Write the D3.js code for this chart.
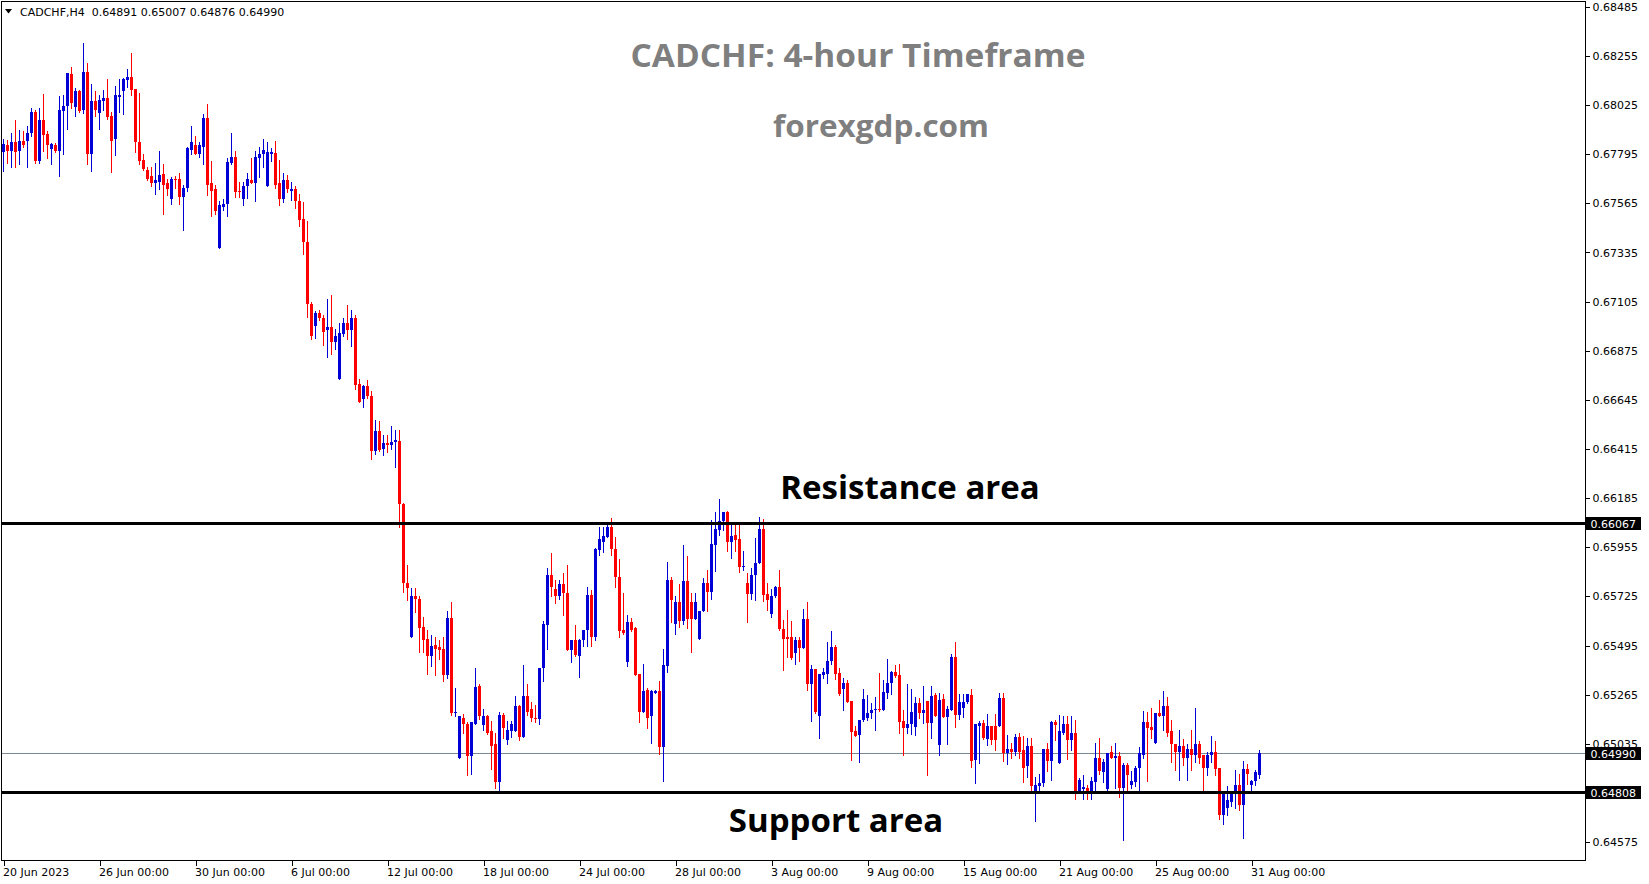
<!DOCTYPE html>
<html>
<head>
<meta charset="utf-8">
<script src="https://cdn.jsdelivr.net/npm/d3@7"></script>
<style>
html,body{margin:0;padding:0;background:#ffffff;overflow:hidden;}
svg{display:block;}
</style>
</head>
<body>
<svg id="chart" width="1649" height="884"></svg>
<script>
const symbolLabel = "CADCHF,H4";
const lastQuote = ["0.64891", "0.65007", "0.64876", "0.64990"];
const titleText = "CADCHF: 4-hour Timeframe";
const siteText = "forexgdp.com";
const resistanceText = "Resistance area";
const supportText = "Support area";

const open = [
0.67803,0.67839,0.67808,0.67851,0.67808,0.67857,0.67857,0.67892,0.67993,0.67765,
0.67956,0.67890,0.67818,0.67839,0.67808,0.67999,0.68021,0.68171,0.68018,0.68091,
0.68003,0.68180,0.67794,0.68042,0.67990,0.68046,0.68059,0.67974,0.67864,0.68065,
0.68093,0.68143,0.68157,0.68101,0.67854,0.67769,0.67723,0.67691,0.67658,0.67667,
0.67703,0.67658,0.67587,0.67681,0.67681,0.67597,0.67639,0.67817,0.67839,0.67794,
0.67831,0.67965,0.67662,0.67630,0.67358,0.67550,0.67560,0.67756,0.67783,0.67625,
0.67587,0.67644,0.67676,0.67662,0.67779,0.67794,0.67648,0.67798,0.67801,0.67658,
0.67587,0.67675,0.67625,0.67633,0.67577,0.67494,0.67385,0.67095,0.66993,0.67053,
0.67029,0.66970,0.66987,0.66918,0.66745,0.66954,0.67006,0.66970,0.67029,0.66720,
0.66647,0.66711,0.66664,0.66408,0.66500,0.66413,0.66444,0.66436,0.66446,0.66453,
0.66158,0.65790,0.65533,0.65729,0.65714,0.65584,0.65526,0.65448,0.65497,0.65486,
0.65477,0.65355,0.65625,0.65177,0.64971,0.65158,0.65130,0.64976,0.65130,0.65308,
0.65121,0.65163,0.65093,0.65032,0.64854,0.65172,0.65051,0.65097,0.65097,0.65210,
0.65069,0.65257,0.65196,0.65158,0.65149,0.65388,0.65589,0.65823,0.65762,0.65729,
0.65781,0.65743,0.65472,0.65523,0.65448,0.65519,0.65566,0.65734,0.65537,0.65940,
0.65982,0.66005,0.66052,0.65949,0.65818,0.65566,0.65420,0.65603,0.65575,0.65360,
0.65186,0.65285,0.65163,0.65275,0.65280,0.65018,0.65397,0.65800,0.65598,0.65701,
0.65612,0.65795,0.65697,0.65617,0.65528,0.65655,0.65790,0.65744,0.65967,0.66037,
0.66079,0.66121,0.65981,0.66014,0.65995,0.65864,0.65789,0.65737,0.65826,0.65883,
0.66042,0.65737,0.65644,0.65728,0.65770,0.65571,0.65533,0.65533,0.65458,0.65519,
0.65482,0.65617,0.65313,0.65383,0.65163,0.65355,0.65360,0.65425,0.65486,0.65365,
0.65290,0.65318,0.65234,0.65093,0.65075,0.65145,0.65154,0.65177,0.65192,0.65196,
0.65192,0.65271,0.65318,0.65369,0.65355,0.65140,0.65107,0.65126,0.65112,0.65224,
0.65177,0.65234,0.65131,0.65262,0.65028,0.65243,0.65159,0.65192,0.65440,0.65168,
0.65201,0.65229,0.65262,0.64958,0.65117,0.65131,0.65056,0.65117,0.65117,0.65117,
0.65248,0.64990,0.65009,0.64999,0.65065,0.65004,0.64929,0.65023,0.64812,0.64836,
0.64850,0.65009,0.64953,0.65135,0.64943,0.65088,0.65130,0.65051,0.65088,0.64812,
0.64822,0.64826,0.64812,0.64854,0.64971,0.64901,0.64822,0.64995,0.64967,0.64976,
0.64826,0.64934,0.64840,0.64854,0.64920,0.64981,0.65135,0.65112,0.65037,0.65177,
0.65163,0.65210,0.65093,0.65032,0.64995,0.65023,0.64971,0.65013,0.64985,0.65032,
0.64981,0.64924,0.64981,0.64995,0.64920,0.64700,0.64733,0.64765,0.64803,0.64840,
0.64751,0.64915,0.64840,0.64859,0.64891];

const high = [
0.67865,0.67862,0.67893,0.67956,0.67909,0.67904,0.67928,0.68010,0.68003,0.68012,
0.68077,0.67904,0.67847,0.67847,0.68068,0.68073,0.68176,0.68205,0.68104,0.68096,
0.68316,0.68223,0.68124,0.68091,0.68073,0.68096,0.68148,0.67993,0.68116,0.68148,
0.68154,0.68194,0.68269,0.68101,0.68082,0.67797,0.67737,0.67737,0.67756,0.67812,
0.67751,0.67681,0.67686,0.67695,0.67709,0.67653,0.67831,0.67925,0.67878,0.67851,
0.67985,0.68032,0.67765,0.67653,0.67578,0.67587,0.67779,0.67896,0.67812,0.67667,
0.67667,0.67709,0.67779,0.67808,0.67831,0.67868,0.67850,0.67826,0.67857,0.67770,
0.67706,0.67700,0.67667,0.67648,0.67611,0.67569,0.67483,0.67104,0.67062,0.67067,
0.67043,0.67118,0.67137,0.66978,0.67006,0.67029,0.67090,0.67067,0.67043,0.66744,
0.66716,0.66739,0.66687,0.66552,0.66547,0.66482,0.66482,0.66524,0.66505,0.66505,
0.66161,0.65873,0.65765,0.65765,0.65729,0.65631,0.65569,0.65545,0.65537,0.65523,
0.65537,0.65658,0.65700,0.65294,0.65163,0.65176,0.65135,0.65135,0.65388,0.65317,
0.65200,0.65168,0.65140,0.65088,0.65182,0.65177,0.65140,0.65140,0.65261,0.65219,
0.65406,0.65313,0.65229,0.65215,0.65392,0.65608,0.65860,0.65926,0.65804,0.65800,
0.65834,0.65870,0.65523,0.65589,0.65528,0.65570,0.65771,0.65753,0.65954,0.66052,
0.66052,0.66062,0.66090,0.66005,0.65898,0.65739,0.65636,0.65622,0.65584,0.65360,
0.65411,0.65294,0.65289,0.65289,0.65331,0.65477,0.65884,0.65818,0.65729,0.65781,
0.65968,0.65912,0.65743,0.65739,0.65655,0.65809,0.65847,0.66084,0.66121,0.66182,
0.66121,0.66126,0.66060,0.66060,0.66065,0.65939,0.65836,0.65859,0.66000,0.66098,
0.66088,0.65789,0.65761,0.65775,0.65850,0.65613,0.65660,0.65608,0.65533,0.65533,
0.65664,0.65697,0.65402,0.65383,0.65360,0.65388,0.65510,0.65561,0.65496,0.65388,
0.65341,0.65332,0.65234,0.65117,0.65145,0.65290,0.65262,0.65224,0.65252,0.65365,
0.65332,0.65430,0.65374,0.65402,0.65407,0.65192,0.65313,0.65290,0.65252,0.65248,
0.65304,0.65234,0.65304,0.65271,0.65271,0.65266,0.65210,0.65454,0.65510,0.65266,
0.65266,0.65266,0.65290,0.65126,0.65140,0.65145,0.65173,0.65117,0.65173,0.65271,
0.65271,0.65074,0.65041,0.65079,0.65084,0.65070,0.65060,0.65060,0.64882,0.64892,
0.65009,0.65037,0.65140,0.65145,0.65168,0.65163,0.65163,0.65163,0.65145,0.64873,
0.64887,0.64840,0.64882,0.65037,0.65060,0.64962,0.64990,0.65023,0.65037,0.64995,
0.64943,0.64943,0.64906,0.64929,0.65018,0.65191,0.65182,0.65205,0.65177,0.65238,
0.65280,0.65252,0.65145,0.65032,0.65098,0.65056,0.65032,0.65098,0.65201,0.65046,
0.64981,0.64995,0.65070,0.65046,0.64920,0.64812,0.64836,0.64812,0.64911,0.64896,
0.64953,0.64939,0.64868,0.64911,0.65007];

const low = [
0.67718,0.67756,0.67733,0.67733,0.67751,0.67828,0.67733,0.67881,0.67756,0.67756,
0.67808,0.67775,0.67751,0.67804,0.67695,0.67798,0.67911,0.68013,0.67976,0.67992,
0.67990,0.67747,0.67718,0.67976,0.67911,0.68003,0.67959,0.67714,0.67789,0.67993,
0.67985,0.68110,0.68074,0.67803,0.67751,0.67723,0.67672,0.67644,0.67611,0.67630,
0.67517,0.67606,0.67564,0.67639,0.67560,0.67438,0.67625,0.67794,0.67794,0.67784,
0.67751,0.67606,0.67508,0.67513,0.67358,0.67536,0.67508,0.67747,0.67597,0.67597,
0.67555,0.67592,0.67662,0.67574,0.67686,0.67733,0.67648,0.67765,0.67639,0.67555,
0.67569,0.67616,0.67581,0.67541,0.67461,0.67326,0.67031,0.66932,0.66937,0.67017,
0.66900,0.66844,0.66862,0.66881,0.66745,0.66946,0.66932,0.66895,0.66694,0.66633,
0.66614,0.66652,0.66366,0.66390,0.66408,0.66385,0.66399,0.66413,0.66329,0.66048,
0.65748,0.65706,0.65533,0.65654,0.65467,0.65467,0.65364,0.65397,0.65355,0.65430,
0.65327,0.65341,0.65172,0.65163,0.64971,0.65088,0.64887,0.64892,0.65126,0.65149,
0.65102,0.65083,0.64915,0.64826,0.64812,0.65060,0.65032,0.65069,0.65093,0.65051,
0.65069,0.65168,0.65140,0.65135,0.65130,0.65331,0.65481,0.65729,0.65692,0.65711,
0.65640,0.65472,0.65420,0.65448,0.65350,0.65491,0.65495,0.65491,0.65523,0.65921,
0.65935,0.66005,0.65921,0.65771,0.65537,0.65551,0.65397,0.65561,0.65355,0.65135,
0.65186,0.65111,0.65037,0.65275,0.64987,0.64859,0.65369,0.65603,0.65551,0.65584,
0.65594,0.65575,0.65463,0.65617,0.65528,0.65655,0.65655,0.65711,0.65845,0.66014,
0.66037,0.65939,0.65903,0.65939,0.65840,0.65850,0.65603,0.65714,0.65709,0.65883,
0.65705,0.65663,0.65630,0.65723,0.65566,0.65379,0.65440,0.65430,0.65411,0.65421,
0.65482,0.65285,0.65140,0.65177,0.65060,0.65341,0.65318,0.65411,0.65337,0.65262,
0.65192,0.65229,0.64958,0.65070,0.64948,0.65140,0.65145,0.65154,0.65098,0.65187,
0.65192,0.65248,0.65266,0.65346,0.65084,0.64981,0.65084,0.65079,0.65075,0.65154,
0.65131,0.64887,0.65060,0.65163,0.64981,0.65159,0.65032,0.65192,0.65112,0.65149,
0.65159,0.65224,0.64925,0.64850,0.64943,0.65056,0.65028,0.65032,0.65004,0.65117,
0.64953,0.64939,0.64967,0.64985,0.64971,0.64854,0.64882,0.64812,0.64676,0.64812,
0.64836,0.64906,0.64868,0.65051,0.64943,0.65079,0.64962,0.65004,0.64775,0.64812,
0.64779,0.64779,0.64779,0.64812,0.64896,0.64854,0.64812,0.64967,0.64826,0.64784,
0.64586,0.64817,0.64826,0.64836,0.64803,0.64967,0.64859,0.65060,0.65037,0.65163,
0.65098,0.65070,0.64948,0.64911,0.64864,0.64934,0.64864,0.64911,0.64948,0.64943,
0.64812,0.64887,0.64948,0.64887,0.64681,0.64658,0.64700,0.64742,0.64733,0.64723,
0.64592,0.64845,0.64817,0.64840,0.64876];

const close = [
0.67843,0.67812,0.67851,0.67803,0.67857,0.67836,0.67895,0.67993,0.67765,0.67956,
0.67887,0.67836,0.67843,0.67808,0.68003,0.68021,0.68176,0.68037,0.68091,0.67999,
0.68180,0.67794,0.68045,0.68003,0.68049,0.68059,0.67971,0.67859,0.68070,0.68073,
0.68148,0.68157,0.68096,0.67854,0.67765,0.67728,0.67681,0.67658,0.67672,0.67700,
0.67653,0.67634,0.67681,0.67676,0.67597,0.67639,0.67826,0.67850,0.67794,0.67836,
0.67965,0.67653,0.67625,0.67527,0.67555,0.67564,0.67759,0.67783,0.67620,0.67616,
0.67648,0.67681,0.67662,0.67784,0.67797,0.67817,0.67803,0.67803,0.67653,0.67587,
0.67676,0.67634,0.67633,0.67574,0.67489,0.67382,0.67092,0.66946,0.67053,0.67026,
0.66965,0.66987,0.66918,0.66945,0.66959,0.67006,0.66970,0.67029,0.66717,0.66637,
0.66708,0.66661,0.66408,0.66500,0.66411,0.66444,0.66436,0.66449,0.66455,0.66156,
0.65787,0.65764,0.65729,0.65714,0.65575,0.65523,0.65444,0.65491,0.65481,0.65472,
0.65355,0.65625,0.65177,0.65182,0.65163,0.65126,0.64976,0.65135,0.65303,0.65163,
0.65163,0.65088,0.65027,0.64854,0.65172,0.65111,0.65102,0.65126,0.65210,0.65069,
0.65257,0.65182,0.65154,0.65149,0.65388,0.65594,0.65823,0.65767,0.65729,0.65781,
0.65739,0.65472,0.65523,0.65453,0.65523,0.65570,0.65734,0.65533,0.65949,0.65996,
0.66010,0.66052,0.65945,0.65814,0.65561,0.65556,0.65603,0.65570,0.65355,0.65186,
0.65280,0.65158,0.65280,0.65280,0.65018,0.65402,0.65804,0.65706,0.65701,0.65612,
0.65795,0.65617,0.65617,0.65697,0.65655,0.65790,0.65744,0.65971,0.66042,0.66079,
0.66121,0.65981,0.66009,0.65990,0.65864,0.65868,0.65737,0.65826,0.65883,0.66042,
0.65733,0.65709,0.65728,0.65770,0.65571,0.65528,0.65528,0.65435,0.65519,0.65482,
0.65617,0.65313,0.65383,0.65182,0.65360,0.65369,0.65425,0.65486,0.65360,0.65266,
0.65318,0.65229,0.65089,0.65070,0.65145,0.65243,0.65177,0.65192,0.65196,0.65192,
0.65276,0.65318,0.65369,0.65351,0.65135,0.65107,0.65126,0.65182,0.65224,0.65177,
0.65192,0.65131,0.65257,0.65163,0.65238,0.65159,0.65196,0.65440,0.65168,0.65229,
0.65229,0.65266,0.64953,0.65126,0.65131,0.65060,0.65117,0.65051,0.65051,0.65248,
0.64990,0.65013,0.64999,0.65065,0.64999,0.64924,0.65023,0.64836,0.64840,0.64850,
0.65009,0.64953,0.65135,0.65121,0.65093,0.65130,0.65051,0.65088,0.64812,0.64864,
0.64831,0.64812,0.64859,0.64971,0.64906,0.64948,0.64990,0.64967,0.64976,0.64826,
0.64934,0.64887,0.64859,0.64924,0.64990,0.65135,0.65107,0.65098,0.65177,0.65163,
0.65210,0.65088,0.65032,0.64995,0.65023,0.64971,0.65013,0.64985,0.65032,0.64967,
0.64924,0.64985,0.64995,0.64915,0.64700,0.64803,0.64770,0.64808,0.64840,0.64751,
0.64915,0.64892,0.64859,0.64901,0.64990];

const timeLabels = ["20 Jun 2023","26 Jun 00:00","30 Jun 00:00","6 Jul 00:00","12 Jul 00:00",
  "18 Jul 00:00","24 Jul 00:00","28 Jul 00:00","3 Aug 00:00","9 Aug 00:00",
  "15 Aug 00:00","21 Aug 00:00","25 Aug 00:00","31 Aug 00:00"];
const timeLabelBars = [0,24,48,72,96,120,144,168,192,216,240,264,288,312];
const priceTicks = [0.68485,0.68255,0.68025,0.67795,0.67565,0.67335,0.67105,0.66875,0.66645,
  0.66415,0.66185,0.65955,0.65725,0.65495,0.65265,0.65035,0.64575];
const resistanceLevel = 0.66067;
const supportLevel = 0.64808;
const bidLevel = 0.64990;

// ---------- layout ----------
const svg = d3.select("#chart");
const frame = {left: 1.5, right: 1585.5, top: 1.5, bottom: 860.5};
const n = open.length;
const x = d3.scaleLinear().domain([0, n - 1]).range([3.5, 3.5 + 4 * (n - 1)]);
const y = d3.scaleLinear().domain([0.64575, 0.68485]).range([842.1, 6.8]);
const BULL = "#0000d6", BEAR = "#ff0000";
const axisFont = "'DejaVu Sans', Verdana, sans-serif";
const titleFont = "'Open Sans', 'Noto Sans', sans-serif";

svg.append("rect").attr("width", 1649).attr("height", 884).attr("fill", "#ffffff");

// bid line (behind candles)
svg.append("line")
  .attr("x1", frame.left).attr("x2", frame.right)
  .attr("y1", Math.round(y(bidLevel)) + 0.5).attr("y2", Math.round(y(bidLevel)) + 0.5)
  .attr("stroke", "#7a8794").attr("stroke-width", 1);

// candles
const bars = d3.range(n).map(i => ({i, o: open[i], h: high[i], l: low[i], c: close[i]}));
const g = svg.append("g").attr("shape-rendering", "crispEdges");
const candle = g.selectAll("g.c").data(bars).join("g").attr("class", "c");
candle.append("line")
  .attr("x1", d => x(d.i)).attr("x2", d => x(d.i))
  .attr("y1", d => Math.round(y(d.h)))
  .attr("y2", d => Math.round(y(d.l)) + 1)
  .attr("stroke", d => d.c >= d.o ? BULL : BEAR)
  .attr("stroke-width", 1);
candle.append("rect")
  .attr("x", d => x(d.i) - 1.5)
  .attr("width", 3)
  .attr("y", d => Math.round(y(Math.max(d.o, d.c))))
  .attr("height", d => Math.max(1, Math.round(y(Math.min(d.o, d.c))) - Math.round(y(Math.max(d.o, d.c)))))
  .attr("fill", d => d.c >= d.o ? BULL : BEAR);

// resistance / support lines
[resistanceLevel, supportLevel].forEach(v => {
  svg.append("line")
    .attr("x1", frame.left).attr("x2", frame.right)
    .attr("y1", Math.round(y(v)) + 0.5).attr("y2", Math.round(y(v)) + 0.5)
    .attr("stroke", "#000").attr("stroke-width", 3);
});

// frame
svg.append("rect")
  .attr("x", frame.left).attr("y", frame.top)
  .attr("width", frame.right - frame.left).attr("height", frame.bottom - frame.top)
  .attr("fill", "none").attr("stroke", "#000").attr("stroke-width", 1)
  .attr("shape-rendering", "crispEdges");

// right price axis
const yAxis = d3.axisRight(y).tickValues(priceTicks).tickFormat(d3.format(".5f")).tickSize(4).tickPadding(3);
const ya = svg.append("g").attr("transform", `translate(${frame.right},0)`).call(yAxis);
ya.select(".domain").remove();
ya.selectAll(".tick line").attr("stroke", "#000").attr("shape-rendering", "crispEdges");
ya.selectAll("text").attr("font-family", axisFont).attr("font-size", 11).attr("fill", "#000");

// bottom time axis
const xAxis = d3.axisBottom(x).tickValues(timeLabelBars)
  .tickFormat((d, k) => timeLabels[k]).tickSize(5).tickPadding(3);
const xa = svg.append("g").attr("transform", `translate(0,${frame.bottom})`).call(xAxis);
xa.select(".domain").remove();
xa.selectAll(".tick line").attr("stroke", "#000").attr("shape-rendering", "crispEdges");
xa.selectAll("text").attr("font-family", axisFont).attr("font-size", 11).attr("fill", "#000")
  .attr("text-anchor", "start").attr("dx", -1);

// price boxes
[resistanceLevel, bidLevel, supportLevel].forEach(v => {
  const yy = Math.round(y(v));
  svg.append("rect").attr("x", frame.right + 0.5).attr("y", yy - 6).attr("width", 55).attr("height", 13)
    .attr("fill", "#000");
  svg.append("text").attr("x", frame.right + 5).attr("y", yy + 4.5)
    .attr("font-family", axisFont).attr("font-size", 11).attr("fill", "#fff")
    .text(d3.format(".5f")(v));
});

// header
svg.append("path").attr("d", "M5,9 L12,9 L8.5,13.5 Z").attr("fill", "#000");
svg.append("text").attr("x", 20).attr("y", 16)
  .attr("font-family", axisFont).attr("font-size", 11).attr("fill", "#000")
  .attr("xml:space", "preserve")
  .text(symbolLabel + "  " + lastQuote.join(" "));

// titles
svg.append("text").attr("x", 858).attr("y", 67).attr("text-anchor", "middle")
  .attr("font-family", titleFont).attr("font-weight", 700).attr("font-size", 32).attr("fill", "#7f7f7f")
  .attr("textLength", 455).attr("lengthAdjust", "spacingAndGlyphs")
  .text(titleText);
svg.append("text").attr("x", 881).attr("y", 137).attr("text-anchor", "middle")
  .attr("font-family", titleFont).attr("font-weight", 700).attr("font-size", 31).attr("fill", "#7f7f7f")
  .attr("textLength", 216).attr("lengthAdjust", "spacingAndGlyphs")
  .text(siteText);
svg.append("text").attr("x", 910).attr("y", 499).attr("text-anchor", "middle")
  .attr("font-family", titleFont).attr("font-weight", 700).attr("font-size", 33).attr("fill", "#000")
  .text(resistanceText);
svg.append("text").attr("x", 836).attr("y", 832).attr("text-anchor", "middle")
  .attr("font-family", titleFont).attr("font-weight", 700).attr("font-size", 33).attr("fill", "#000")
  .text(supportText);
</script>
</body>
</html>
